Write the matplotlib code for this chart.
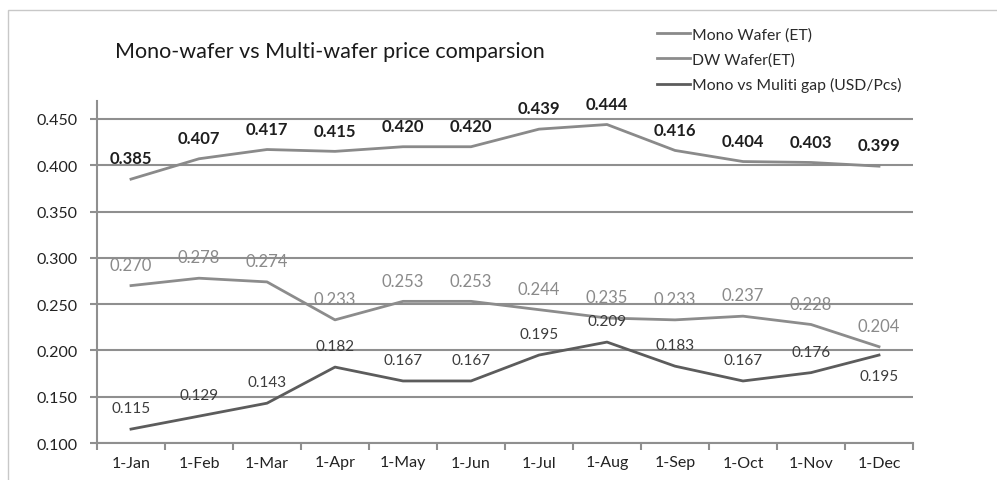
import matplotlib
import matplotlib.pyplot as plt
from matplotlib.patches import Rectangle

matplotlib.use('Agg')

plt.rcParams['font.family'] = ['Lato', 'DejaVu Sans']

months = ['1-Jan', '1-Feb', '1-Mar', '1-Apr', '1-May', '1-Jun',
          '1-Jul', '1-Aug', '1-Sep', '1-Oct', '1-Nov', '1-Dec']
mono_wafer = [0.385, 0.407, 0.417, 0.415, 0.420, 0.420,
              0.439, 0.444, 0.416, 0.404, 0.403, 0.399]
dw_wafer = [0.270, 0.278, 0.274, 0.233, 0.253, 0.253,
            0.244, 0.235, 0.233, 0.237, 0.228, 0.204]
mono_multi_gap = [0.115, 0.129, 0.143, 0.182, 0.167, 0.167,
                  0.195, 0.209, 0.183, 0.167, 0.176, 0.195]
y_ticks = [0.100, 0.150, 0.200, 0.250, 0.300, 0.350, 0.400, 0.450]

GRID = '#8f8f8f'

fig = plt.figure(figsize=(9.97, 4.81), dpi=100)
# outer chart frame (clipped on right/bottom like the screenshot)
fig.patches.append(Rectangle((8 / 997, -0.2), 1.2, 1.2 - 11 / 481,
                             transform=fig.transFigure, fill=False,
                             edgecolor='#c8c8c8', linewidth=1.0))

ax = fig.add_axes([97 / 997, 1 - 444 / 481, (913 - 97) / 997, (444 - 102) / 481])

x = list(range(len(months)))
series = [
    (mono_wafer, 'Mono Wafer (ET)', '#8a8a8a', '#1e1e1e', 'bold', 12),
    (dw_wafer, 'DW Wafer(ET)', '#8c8c8c', '#8a8a8a', 'normal', 12),
    (mono_multi_gap, 'Mono vs Muliti gap (USD/Pcs)', '#5c5c5c', '#3c3c3c', 'normal', 11),
]
handles = []
for values, label, color, text_color, weight, size in series:
    line, = ax.plot(x, values, color=color, linewidth=2.0, label=label, zorder=3)
    handles.append(line)
    for i, v in enumerate(values):
        # the last gap label sits below its point
        dy = -15 if (values is mono_multi_gap and i == len(values) - 1) else 15
        ax.annotate(f'{v:.3f}', (i, v), xytext=(0, dy), textcoords='offset points',
                    ha='center', va='center', fontsize=size,
                    fontweight=weight, color=text_color, zorder=4)

ax.set_xlim(-0.5, len(months) - 0.5)
ax.set_ylim(0.1, 0.4694)
ax.set_yticks(y_ticks)
ax.set_yticklabels([f'{t:.3f}' for t in y_ticks], fontsize=11.5, color='#222222')
ax.set_xticks(x)
ax.set_xticklabels(months, fontsize=11.5, color='#222222')
ax.set_xticks([i - 0.5 for i in range(len(months) + 1)], minor=True)
ax.tick_params(axis='x', which='major', length=0, pad=9)
ax.tick_params(axis='x', which='minor', length=5, color=GRID, width=1.5, direction='out')
ax.tick_params(axis='y', length=5, color=GRID, width=1.5, pad=9)
ax.grid(axis='y', color=GRID, linewidth=1.5, zorder=1)
ax.set_axisbelow(True)
for side in ('top', 'right'):
    ax.spines[side].set_visible(False)
for side in ('left', 'bottom'):
    ax.spines[side].set_color(GRID)
    ax.spines[side].set_linewidth(1.5)

fig.text(115 / 997, 1 - 52 / 481, 'Mono-wafer vs Multi-wafer price comparsion',
         fontsize=15.5, color='#1a1a1a', ha='left', va='center')

leg = fig.legend(handles=handles, loc='upper left', bbox_to_anchor=(657 / 997, 1 - 28 / 481),
                 frameon=False, fontsize=11.3, handlelength=2.1, handletextpad=0.15,
                 labelspacing=0.68, borderaxespad=0, borderpad=0)
for t in leg.get_texts():
    t.set_color('#2a2a2a')

fig.savefig('out.png', dpi=100)
